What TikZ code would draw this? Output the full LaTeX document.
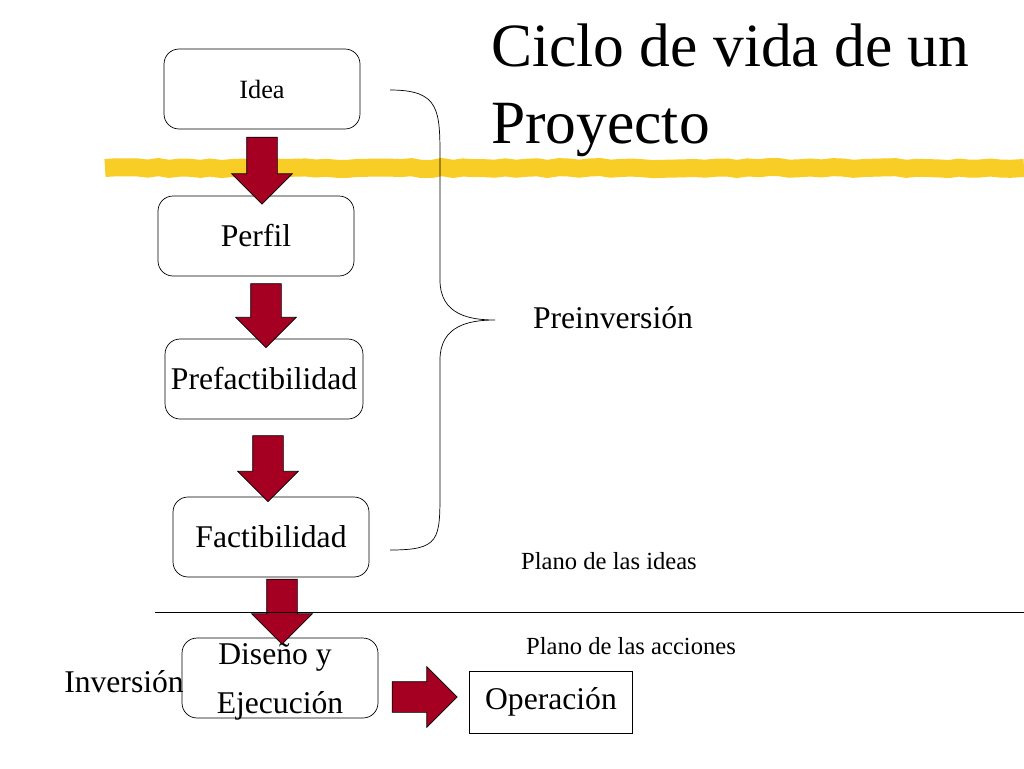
\documentclass[tikz,border=0pt]{standalone}
\usepackage{fontspec}
\setmainfont{Liberation Serif}
\usetikzlibrary{shapes.arrows,decorations.pathmorphing}
\definecolor{arrowred}{HTML}{A50021}
\definecolor{marker}{HTML}{F6C400}
\newcommand{\shaft}{\rule{0pt}{0.6cm}}
\begin{document}
\begin{tikzpicture}[x=0.02cm,y=-0.02cm]
    % `stage' is used for the rounded boxes of the cycle.
    % `flow' is used for the fat arrows between them.
    \tikzstyle{stage} = [draw,rounded corners=3mm,minimum width=3.92cm,minimum height=1.6cm,font=\fontsize{18}{20}\selectfont]
    \tikzstyle{flow} = [single arrow,draw=black,fill=arrowred,single arrow head extend=0.3cm,minimum width=0.6cm,inner sep=0pt]
    \tikzstyle{note} = [font=\fontsize{14}{16}\selectfont]
    %
    \useasboundingbox (0,0) rectangle (1024,768);
    % Marker stroke under the title.
    \draw[marker,line width=0.36cm,opacity=0.85,decorate,decoration={random steps,segment length=6pt,amplitude=0.6pt}] (105,168) -- (1024,168);
    \node[anchor=west,font=\fontsize{35}{40}\selectfont] (title1) at (485,45) {Ciclo de vida de un};
    \node[anchor=west,font=\fontsize{35}{40}\selectfont] (title2) at (485,130) {Proyecto};
    %
    \node[stage,font=\fontsize{15}{17}\selectfont] (idea) at (262,89) {Idea};
    \node[stage] (perfil) at (256,236) {Perfil};
    \node[stage] (prefact) at (264,379) {Prefactibilidad};
    \node[stage] (fact) at (271,537) {Factibilidad};
    \node[stage] (diseno) at (280,678) {};
    \node[font=\fontsize{18}{20}\selectfont] (dis1) at (275,657) {Diseño y};
    \node[font=\fontsize{18}{20}\selectfont] (dis2) at (280,706) {Ejecución};
    \node[draw,minimum width=3.26cm,minimum height=1.24cm,font=\fontsize{18}{20}\selectfont] (oper) at (551,702) {Operación};
    %
    \node[flow,rotate=-90,minimum height=1.34cm] (a1) at (262,163) {\shaft};
    \node[flow,rotate=-90,minimum height=1.28cm] (a2) at (266,308) {\shaft};
    \node[flow,rotate=-90,minimum height=1.32cm] (a3) at (268,461) {\shaft};
    \node[flow,rotate=-90,minimum height=1.3cm] (a4) at (282,604) {\shaft};
    \node[flow,minimum height=1.3cm] (a5) at (417,697) {\shaft};
    % Brace.
    \coordinate (btop) at (390,90);
    \coordinate (bbot) at (390,550);
    \coordinate (btip) at (495,320);
    \draw[thin] (btop) .. controls (440,90) and (440,110) .. (440,160) -- (440,280)
        .. controls (440,315) and (470,320) .. (btip)
        .. controls (470,320) and (440,325) .. (440,360) -- (440,490)
        .. controls (440,540) and (440,550) .. (bbot);
    %
    \node[font=\fontsize{18}{20}\selectfont] (prein) at (613,318) {Preinversión};
    \node[note] (pideas) at (609,561) {Plano de las ideas};
    \node[note] (pacc) at (631,646) {Plano de las acciones};
    \node[font=\fontsize{18}{20}\selectfont] (inv) at (124,682) {Inversión};
    \coordinate (lstart) at (155,612);
    \coordinate (lend) at (1024,612);
    \draw[thin] (lstart) -- (lend);
\end{tikzpicture}
\end{document}
